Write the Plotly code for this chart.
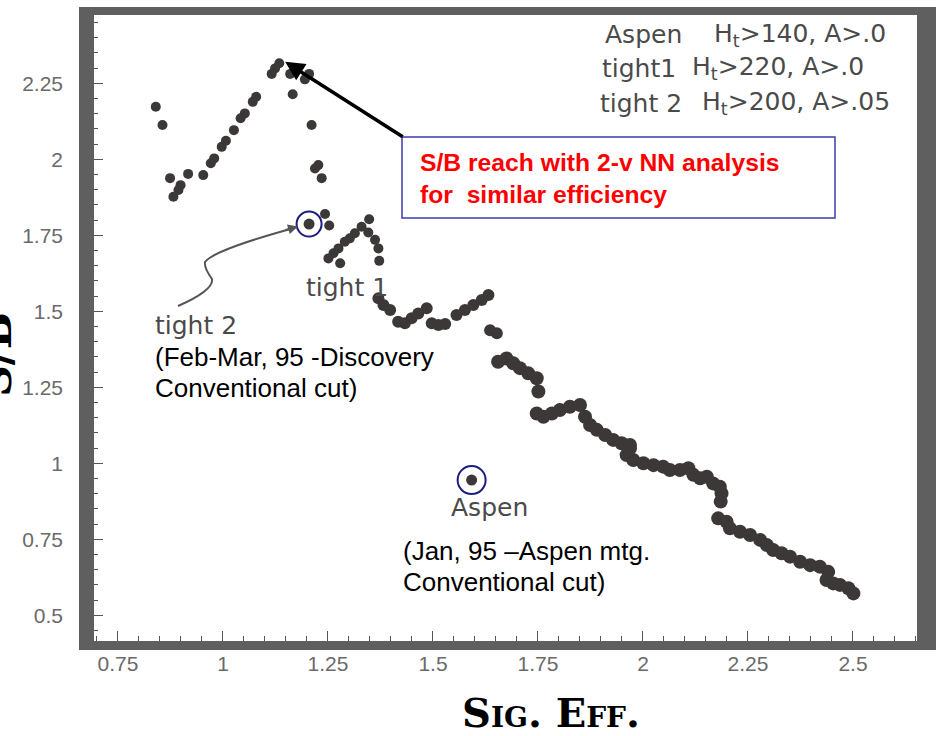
import plotly.graph_objects as go

# ---------------- data ----------------
# "tight 2" scan (upper-left arc of dots)
tight2_x = [0.840, 0.856, 0.874, 0.917, 0.953, 0.899, 0.894, 0.882, 0.971, 0.979,
            0.997, 1.007, 1.026, 1.042, 1.052, 1.071, 1.079, 1.116, 1.124, 1.134,
            1.160, 1.195, 1.205, 1.166, 1.211, 1.219, 1.227, 1.235, 1.243, 1.253]
tight2_y = [2.173, 2.113, 1.938, 1.952, 1.948, 1.915, 1.899, 1.877, 1.987, 2.003,
            2.041, 2.061, 2.096, 2.135, 2.151, 2.189, 2.206, 2.281, 2.299, 2.316,
            2.281, 2.263, 2.281, 2.214, 2.113, 1.970, 1.981, 1.938, 1.820, 1.782]

# "tight 1" scan (separate dots)
tight1_x = [1.348, 1.330, 1.346, 1.314, 1.302, 1.290, 1.362, 1.370, 1.275, 1.263,
            1.251, 1.279, 1.372]
tight1_y = [1.803, 1.778, 1.759, 1.757, 1.740, 1.729, 1.735, 1.707, 1.707, 1.691,
            1.674, 1.658, 1.666]

# middle part of the NN scan (merged blobs)
mid_x = [1.370, 1.382, 1.398, 1.417, 1.433, 1.449, 1.465, 1.485, 1.497, 1.513,
         1.529, 1.556, 1.576, 1.596, 1.616, 1.632, 1.636, 1.652]
mid_y = [1.543, 1.521, 1.504, 1.466, 1.461, 1.477, 1.493, 1.510, 1.461, 1.455,
         1.458, 1.488, 1.504, 1.521, 1.537, 1.554, 1.438, 1.428]

# dense descending band of the NN scan
band_x = [1.655, 1.675, 1.691, 1.707, 1.727, 1.747, 1.751, 1.747, 1.763, 1.783,
          1.802, 1.826, 1.850, 1.862, 1.874, 1.890, 1.910, 1.929, 1.949, 1.969,
          1.969, 1.961, 1.977, 2.001, 2.025, 2.048, 2.064, 2.088, 2.108, 2.120,
          2.136, 2.152, 2.167, 2.183, 2.187, 2.185, 2.179, 2.199, 2.207, 2.231,
          2.255, 2.279, 2.295, 2.310, 2.330, 2.350, 2.374, 2.398, 2.421, 2.441,
          2.437, 2.453, 2.469, 2.489, 2.501]
band_y = [1.334, 1.345, 1.329, 1.313, 1.296, 1.280, 1.236, 1.164, 1.153, 1.164,
          1.175, 1.186, 1.192, 1.153, 1.126, 1.110, 1.093, 1.077, 1.066, 1.060,
          1.049, 1.027, 1.011, 1.000, 0.994, 0.989, 0.978, 0.978, 0.984, 0.962,
          0.951, 0.956, 0.934, 0.923, 0.901, 0.874, 0.819, 0.808, 0.786, 0.775,
          0.764, 0.748, 0.731, 0.715, 0.704, 0.693, 0.676, 0.665, 0.660, 0.643,
          0.616, 0.605, 0.600, 0.589, 0.572]

# conventional-cut points (circled)
tight2_cut_x = [1.205]
tight2_cut_y = [1.787]
aspen_x = [1.592]
aspen_y = [0.945]

# peak reached by the 2-variable NN analysis
peak_x = [1.148]
peak_y = [2.321]

x_tickvals = [0.75, 1, 1.25, 1.5, 1.75, 2, 2.25, 2.5]
x_ticktext = ["0.75", "1", "1.25", "1.5", "1.75", "2", "2.25", "2.5"]
y_tickvals = [0.5, 0.75, 1, 1.25, 1.5, 1.75, 2, 2.25]
y_ticktext = ["0.5", "0.75", "1", "1.25", "1.5", "1.75", "2", "2.25"]

# ---------------- layout helpers ----------------
W, H = 936, 736
L, R, T, B = 94, 917, 15, 641


def px(x):
    return (x - L) / (R - L)


def py(y):
    return (B - y) / (B - T)


DOT = "#3d3838"
NAVY = "#1c1c7e"
HAND = "#4a4a4a"

fig = go.Figure()


def dots(x, y, size):
    fig.add_trace(go.Scatter(x=x, y=y, mode="markers",
                             marker=dict(size=size, color=DOT),
                             showlegend=False, hoverinfo="skip"))


dots(tight2_x, tight2_y, 10)
dots(tight1_x, tight1_y, 10)
dots(mid_x, mid_y, 12)
dots(band_x, band_y, 14)
dots(tight2_cut_x + aspen_x, tight2_cut_y + aspen_y, 11)

fig.add_trace(go.Scatter(x=tight2_cut_x, y=tight2_cut_y, mode="markers",
                         marker=dict(size=25, symbol="circle-open",
                                     color=NAVY, line=dict(width=2, color=NAVY)),
                         showlegend=False, hoverinfo="skip"))
fig.add_trace(go.Scatter(x=aspen_x, y=aspen_y, mode="markers",
                         marker=dict(size=28, symbol="circle-open",
                                     color=NAVY, line=dict(width=2, color=NAVY)),
                         showlegend=False, hoverinfo="skip"))

shapes = []
GRAY = "#5f5f5f"
# thick frame
for (x0, y0, x1, y1) in [(79, 7, 94, 650), (79, 7, 936, 15),
                         (917, 7, 940, 650), (79, 641, 940, 650)]:
    shapes.append(dict(type="rect", xref="paper", yref="paper",
                       x0=px(x0), x1=px(x1), y0=py(y1), y1=py(y0),
                       fillcolor=GRAY, line=dict(width=0), layer="above"))
# annotation box
shapes.append(dict(type="rect", xref="paper", yref="paper",
                   x0=px(402), x1=px(835), y0=py(218), y1=py(137),
                   line=dict(color="#3b3bb0", width=1.5), fillcolor="white",
                   layer="above"))
# hand-drawn curved arrow
pts = [(178, 306), (214, 290), (212, 279), (204, 268), (205, 262),
       (214, 250), (255, 238), (294, 228)]
path = "M {},{} Q {},{} {},{} Q {},{} {},{} Q {},{} {},{}".format(
    px(pts[0][0]), py(pts[0][1]),
    px(pts[1][0]), py(pts[1][1]), px(pts[2][0]), py(pts[2][1]),
    px(pts[3][0]), py(pts[3][1]), px(pts[4][0]), py(pts[4][1]),
    px(pts[5][0]), py(pts[5][1]), px(pts[7][0]), py(pts[7][1]))
shapes.append(dict(type="path", xref="paper", yref="paper", path=path,
                   line=dict(color="#555555", width=2)))

ann = []
# straight arrow to the NN peak
ann.append(dict(x=peak_x[0], y=peak_y[0], xref="x", yref="y", text="",
                showarrow=True, arrowhead=2, arrowsize=1.1, arrowwidth=3.5,
                arrowcolor="black", ax=119, ay=76))
# small arrow head of the curved arrow
ann.append(dict(x=px(298), y=py(226.5), xref="paper", yref="paper", text="",
                showarrow=True, arrowhead=2, arrowsize=1, arrowwidth=2,
                arrowcolor="#555555", ax=-14, ay=4))

RED_FONT = dict(family="Arial, Liberation Sans", size=24.7, color="#ff0000",
                weight="bold")
ann.append(dict(x=px(418), y=py(162), xref="paper", yref="paper",
                text="S/B reach with 2-v NN analysis", showarrow=False,
                xanchor="left", yanchor="middle", font=RED_FONT))
ann.append(dict(x=px(418), y=py(194), xref="paper", yref="paper",
                text="for  similar efficiency", showarrow=False,
                xanchor="left", yanchor="middle", font=RED_FONT))

BLK_FONT = dict(family="Arial, Liberation Sans", size=26, color="black")
for (x, y, t) in [(153, 357, "(Feb-Mar, 95 -Discovery"),
                  (153, 388, "Conventional cut)"),
                  (401, 551, "(Jan, 95 \u2013Aspen mtg."),
                  (401, 582, "Conventional cut)")]:
    ann.append(dict(x=px(x), y=py(y), xref="paper", yref="paper", text=t,
                    showarrow=False, xanchor="left", yanchor="middle",
                    font=BLK_FONT))

HAND_FONT = dict(family="DejaVu Sans", size=25, color=HAND)
for (x, y, t) in [(153, 325, "tight 2"), (304, 287, "tight 1"),
                  (449, 507, "Aspen"),
                  (603, 35, "Aspen"), (712, 35, "H<sub>t</sub>>140, A>.0"),
                  (600, 68, "tight1"), (690, 68, "H<sub>t</sub>>220, A>.0"),
                  (598, 103, "tight 2"), (700, 103, "H<sub>t</sub>>200, A>.05")]:
    ann.append(dict(x=px(x), y=py(y), xref="paper", yref="paper", text=t,
                    showarrow=False, xanchor="left", yanchor="middle",
                    font=HAND_FONT))

TITLE_FONT = dict(family="DejaVu Serif", size=40, color="black",
                  weight="bold", variant="small-caps")
ann.append(dict(x=px(551), y=py(712), xref="paper", yref="paper",
                text="Sig. Eff.", showarrow=False, xanchor="center",
                yanchor="middle", font=TITLE_FONT))
ann.append(dict(x=px(-4), y=py(355), xref="paper", yref="paper",
                text="S/B", showarrow=False, xanchor="center",
                yanchor="middle", textangle=-90,
                font=dict(TITLE_FONT, size=44)))

TICK_FONT = dict(family="Arial, Liberation Sans", size=21, color="#6a6a6a")
fig.update_layout(
    width=W, height=H,
    margin=dict(l=L, r=W - R, t=T, b=H - B, pad=0),
    paper_bgcolor="white", plot_bgcolor="white",
    shapes=shapes, annotations=ann,
    xaxis=dict(range=[0.6929, 2.6524], showgrid=False, zeroline=False,
               showline=False, tickmode="array", tickvals=x_tickvals,
               ticktext=x_ticktext, ticks="inside", ticklen=10,
               tickcolor="#555", tickwidth=1, tickfont=TICK_FONT,
               ticklabelstandoff=8,
               minor=dict(ticks="inside", ticklen=5, dtick=0.05,
                          tick0=0.7, tickcolor="#555", showgrid=False)),
    yaxis=dict(range=[0.4155, 2.4747], showgrid=False, zeroline=False,
               showline=False, tickmode="array", tickvals=y_tickvals,
               ticktext=y_ticktext, ticks="inside", ticklen=9,
               tickcolor="#555", tickwidth=1, tickfont=TICK_FONT,
               ticklabelstandoff=30,
               minor=dict(ticks="inside", ticklen=4, dtick=0.05,
                          tick0=0.5, tickcolor="#555", showgrid=False)),
)

fig.write_html("out.html", config={"displayModeBar": False},
               post_script="document.body.style.margin='0';")
